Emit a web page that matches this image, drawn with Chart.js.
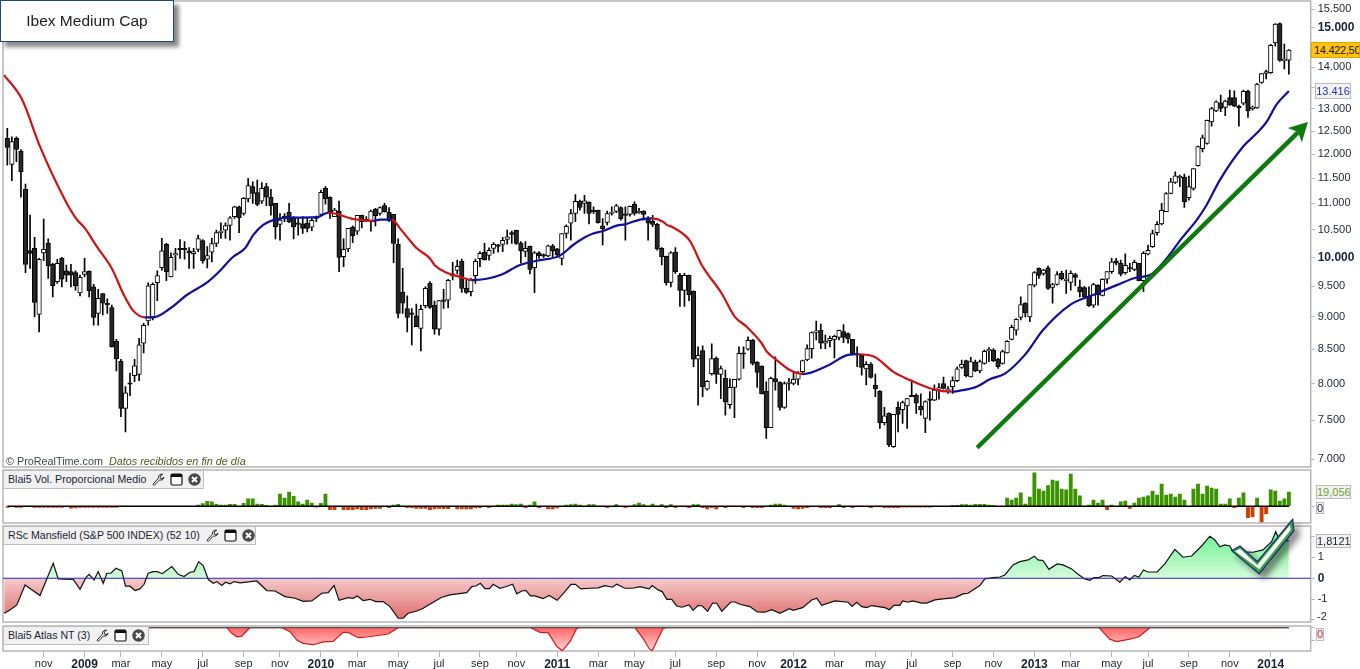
<!DOCTYPE html>
<html>
<head>
<meta charset="utf-8">
<title>Ibex Medium Cap</title>
<script src="https://cdn.jsdelivr.net/npm/chart.js@4/dist/chart.umd.min.js"></script>
<style>
  html, body { margin: 0; padding: 0; background: #fff; overflow: hidden; }
  body { width: 1360px; height: 669px; position: relative; font-family: "Liberation Sans", Arial, sans-serif; color: #1a2436; }
  canvas { position: absolute; left: 0; }
  .title { position: absolute; left: 0; top: 0; width: 172px; height: 40px; background: #fff; border: 1px solid #1f4a7e; box-shadow: 5px 5px 4px #8a8a8a; font-size: 15.5px; line-height: 40px; text-align: center; color: #222; box-sizing: content-box; }
  .credit { position: absolute; left: 6px; top: 454px; font-size: 10.8px; line-height: 14px; color: #3d4a44; white-space: pre; }
  .credit i { color: #4f5a22; }
  .legend { position: absolute; left: 3px; height: 17px; background: #f1f1f1; border: 1px solid #bdbdbd; font-size: 10.6px; line-height: 17px; padding-left: 4px; white-space: pre; box-sizing: content-box; display: flex; align-items: center; }
  .legend svg { width: 13px; height: 13px; margin-left: 5px; }
  .legend svg:first-of-type { margin-left: 6px; }
  .box { position: absolute; box-sizing: border-box; background: #f3f3f3; border: 1px solid #bbb; font-size: 11px; text-align: center; overflow: hidden; white-space: pre; }
  .lbl { position: absolute; font-size: 11px; line-height: 13px; }
  #check { position: absolute; left: 0; top: 0; pointer-events: none; }
</style>
</head>
<body>
<canvas id="mainChart" width="1360" height="469" style="top:0"></canvas>
<canvas id="volChart" width="1360" height="56" style="top:469px"></canvas>
<canvas id="rsChart" width="1360" height="99" style="top:525px"></canvas>
<canvas id="atlasChart" width="1360" height="45" style="top:624px"></canvas>

<svg width="0" height="0" style="position:absolute">
  <symbol id="icoWrench" viewBox="0 0 13 13"><path d="M1 11.2 L2.2 12.4 L7.6 6.8 C9.4 7.6 11.6 6.6 12 4.4 L10 5.8 L8 4.6 L8.6 2.6 L10.6 1.2 C8.2 0.6 6 2.6 6.4 5.2 Z" fill="#fff" stroke="#222" stroke-width="1"/></symbol>
  <symbol id="icoWin" viewBox="0 0 13 13"><rect x="1" y="1" width="11" height="11" rx="1.5" fill="#fff" stroke="#111" stroke-width="1.2"/><rect x="1" y="1" width="11" height="3" fill="#111"/></symbol>
  <symbol id="icoClose" viewBox="0 0 13 13"><circle cx="6.5" cy="6.5" r="6.2" fill="#4a4a4a"/><path d="M4 4 L9 9 M9 4 L4 9" stroke="#fff" stroke-width="2"/></symbol>
</svg>

<div class="title">Ibex Medium Cap</div>
<div class="credit">© ProRealTime.com  <i>Datos recibidos en fin de día</i></div>

<div class="legend" style="top:470px;width:195px">Blai5 Vol. Proporcional Medio<svg><use href="#icoWrench"/></svg><svg><use href="#icoWin"/></svg><svg><use href="#icoClose"/></svg></div>
<div class="legend" style="top:526px;width:247px">RSc Mansfield (S&amp;P 500 INDEX) (52 10)<svg><use href="#icoWrench"/></svg><svg><use href="#icoWin"/></svg><svg><use href="#icoClose"/></svg></div>
<div class="legend" style="top:626px;width:140px">Blai5 Atlas NT (3)<svg><use href="#icoWrench"/></svg><svg><use href="#icoWin"/></svg><svg><use href="#icoClose"/></svg></div>

<div class="box" style="left:1311px;top:42px;width:49px;height:16px;line-height:14px;background:#ffc20e;border-color:#e0a800;color:#222;text-align:left;padding-left:2px;letter-spacing:-0.3px">14.422,50</div>
<div class="box" style="left:1315px;top:83px;width:36px;height:16px;line-height:14px;color:#2a2ac8">13.416</div>
<div class="box" style="left:1316px;top:485px;width:35px;height:14px;line-height:12px;color:#6f9e2e">19,056</div>
<div class="box" style="left:1316px;top:502px;width:8px;height:12px;line-height:10px">0</div>
<div class="box" style="left:1316px;top:534px;width:35px;height:14px;line-height:12px">1,8121</div>
<div class="box" style="left:1316px;top:628px;width:8px;height:13px;line-height:11px;color:#e01c1c">0</div>
<div class="lbl" style="left:1317px;top:610px">-2</div>

<svg id="check" width="1360" height="669">
  <defs>
    <linearGradient id="checkFill" x1="0" y1="0" x2="1" y2="1">
      <stop offset="0" stop-color="#e8fbe4"/><stop offset="0.5" stop-color="#ffffff"/><stop offset="1" stop-color="#c9f2c4"/>
    </linearGradient>
    <filter id="checkShadow" x="-20%" y="-20%" width="160%" height="160%"><feDropShadow dx="5" dy="5" stdDeviation="3" flood-color="#222" flood-opacity="0.55"/></filter>
  </defs>
  <polygon points="1231.7,550.7 1240,546 1257.3,561.7 1292.7,519.3 1294,530.7 1259.3,574" fill="#3f9a46" stroke="#1a2a7a" stroke-width="1.2" filter="url(#checkShadow)"/>
  <polygon points="1235,551.3 1240,548.7 1257.3,565 1290,525 1290.7,530 1259.3,569.3" fill="url(#checkFill)"/>
</svg>

<script>
'use strict';

// ---- weekly candles, Sep 2008 to Feb 2014 ----
const opens = [
  12340,11785,12340,12060,11275,10120,10160,9040,10080,10250,
  9875,9580,9980,9765,9750,9735,9390,9700,9755,9490,
  9055,9380,9220,9150,8620,8320,7655,8000,8110,8130,
  8590,8935,9000,9560,9820,10230,9660,10040,10160,10150,
  10115,10065,10140,10300,9965,10090,10250,10445,10490,10580,
  10745,10935,10805,11085,11330,11210,11045,11330,11120,11000,
  10600,10745,10830,10720,10620,10610,10620,10545,10735,10790,
  11295,11120,10745,10850,10010,10150,10545,10475,10770,10690,
  10665,10885,10805,10960,10830,10790,10230,9400,9135,9055,
  9015,8820,9180,9550,9185,8805,9260,9272,9675,9770,
  9930,9465,9410,9680,9975,10090,10035,10160,10210,10230,
  10320,10445,10490,10250,10105,10195,9820,10080,10040,10025,
  10205,10150,9980,10430,10620,10805,11040,11000,11020,10860,
  10865,10570,10635,10805,10845,10920,10790,10790,10980,10820,
  10845,10720,10655,10600,10160,10015,9565,10090,9685,9430,
  9685,9415,8350,8480,7920,8140,8365,8130,8075,7705,
  7945,8060,8440,8500,8635,8305,8245,7890,7400,8070,
  8015,7670,8000,8000,8060,8170,8339,8510,8755,8790,
  8590,8630,8650,8680,8770,8740,8650,8415,8410,8210,
  8280,7975,7890,7465,7589,7155,7670,7640,7690,7835,
  7835,7685,7520,7780,7769,7920,8000,7890,7955,8040,
  8230,8330,8095,8305,8180,8290,8475,8487,8350,8290,
  8445,8650,8793,8990,9220,9000,9520,9805,9720,9815,
  9480,9530,9720,9595,9565,9700,9490,9480,9325,9190,
  9515,9350,9620,9750,9940,9895,9730,9810,9790,9895,
  9595,10055,10190,10445,10610,10840,11195,11415,11510,11520,
  11110,11295,11760,12120,12230,12705,12955,13140,13035,13265,
  13265,13065,13130,13410,13005,13025,13625,13840,13860,14610,
  15120,14155,14172
];
const highs = [
  12560,12375,12375,12100,11380,10775,10360,9980,10700,10330,
  9895,9965,10000,9865,9875,9765,9690,9980,9765,9535,
  9450,9380,9290,9190,8650,8350,7955,8150,8350,8665,
  8900,9560,9560,9765,10340,10250,10080,10160,10320,10280,
  10175,10160,10400,10320,10190,10340,10493,10630,10630,10745,
  10950,10950,11120,11500,11430,11463,11410,11395,11275,11000,
  10805,10805,11000,10745,10710,10745,10710,10710,10755,11262,
  11330,11130,10905,11045,10330,10525,10570,10770,10775,10745,
  10870,10905,10935,11000,10920,10790,10330,9805,9340,9135,
  9205,9190,9490,9580,9255,9265,9450,9620,9910,9951,
  9970,9606,9635,9970,10100,10250,10170,10265,10230,10360,
  10493,10475,10493,10280,10280,10200,10100,10100,10060,10220,
  10230,10160,10430,10590,10885,11175,11065,11160,11030,10935,
  10871,10710,10850,10935,10980,10935,10935,10950,11030,10905,
  10860,10745,10770,10620,10175,10020,10100,10175,9720,9720,
  9690,9425,8535,8550,8040,8580,8385,8250,8192,8065,
  8060,8535,8535,8690,8650,8315,8255,8025,8090,8385,
  8025,8025,8075,8170,8170,8339,8565,8765,8935,8885,
  8715,8700,8715,8793,8880,8750,8650,8535,8415,8315,
  8300,8135,7900,7670,7597,7575,7745,7755,7790,8049,
  7855,7855,7760,7885,7980,8000,8090,7955,8095,8240,
  8339,8339,8380,8339,8339,8487,8525,8510,8365,8487,
  8630,8870,8975,9325,9230,9530,9750,9815,9790,9845,
  9550,9750,9760,9777,9765,9720,9606,9500,9490,9550,
  9530,9630,9750,9980,9980,9951,10060,9895,9951,9895,
  10100,10220,10493,10650,11000,11210,11500,11630,11565,11585,
  11545,11700,12175,12410,12746,13035,13190,13320,13205,13440,
  13425,13090,13440,13440,13065,13600,13840,13924,14570,15120,
  15140,14580,14440
];
const lows = [
  11770,11450,11840,11120,9730,9805,9000,8765,9940,9635,
  9325,9550,9490,9580,9490,9437,9340,9660,9325,8870,
  8870,9030,9055,8530,8180,7545,7345,7830,8025,8040,
  8445,8870,8950,9260,9777,9595,9660,9777,9980,9965,
  9805,9805,10100,9895,9815,9920,10190,10340,10340,10309,
  10710,10445,10775,11030,11000,10955,11000,10955,10775,10330,
  10309,10650,10630,10330,10400,10430,10460,10480,10650,10775,
  10985,10710,10745,9750,9835,10100,10260,10415,10535,10650,
  10475,10570,10775,10830,10650,9905,8985,9055,8765,8565,
  8845,8475,9145,9135,8730,8715,9135,9145,9606,9710,
  9400,9380,9340,9550,9835,9951,9951,10070,10090,10100,
  10235,10250,10230,9895,10010,9710,9395,9980,10000,10010,
  10010,10000,9865,10350,10309,10650,10871,10805,10610,10805,
  10620,10220,10590,10775,10820,10680,10309,10755,10775,10805,
  10680,10309,10555,10129,9865,9520,9490,9720,9170,9170,
  9260,8240,7700,7815,7908,8120,8000,7790,7565,7655,
  7530,8049,8215,8487,8265,7945,7855,7260,7400,7908,
  7633,7655,7908,7980,7980,8140,8330,8365,8639,8510,
  8510,8535,8370,8639,8600,8590,8415,8240,8120,7980,
  8075,7815,7390,7435,7155,7145,7345,7455,7390,7815,
  7589,7565,7335,7499,7760,7780,7920,7860,7860,8025,
  8215,8095,8090,8170,8150,8280,8315,8315,8215,8280,
  8440,8639,8715,8950,9000,8925,9490,9635,9690,9450,
  9220,9520,9606,9380,9437,9510,9325,9315,9170,9150,
  9190,9340,9550,9720,9865,9675,9705,9750,9765,9590,
  9410,10040,10175,10400,10590,10840,11185,11395,11330,10920,
  11065,11262,11750,12050,12215,12610,12935,12935,12845,13080,
  13050,12610,13090,12805,12973,13010,13600,13710,13840,14525,
  14140,13950,13825
];
const closes = [
  12145,12270,12100,11630,9875,10070,9235,9965,10140,9850,
  9510,9895,9620,9690,9690,9510,9650,9750,9425,8990,
  9300,9220,9195,8535,8360,7655,7870,7990,8255,8565,
  8865,9510,9535,9680,10115,9750,10000,10055,10135,10135,
  10080,10100,10335,9940,10030,10245,10445,10460,10575,10725,
  10935,10725,11100,11350,11195,10980,11295,11120,10955,10555,
  10680,10725,10650,10555,10600,10525,10525,10675,10710,11215,
  11090,10805,10871,10000,10140,10525,10390,10770,10650,10665,
  10850,10765,10920,10840,10680,10250,9055,9220,8990,9040,
  8845,9120,9465,9150,8805,9265,9250,9600,9710,9840,
  9465,9400,9606,9930,10070,9955,10125,10230,10195,10305,
  10370,10415,10250,10115,10160,9790,10080,10030,10020,10205,
  10115,10040,10430,10565,10805,11040,10920,11050,10805,10840,
  10630,10520,10805,10830,10955,10700,10770,10945,10805,10845,
  10790,10620,10600,10150,10010,9560,10080,9750,9430,9685,
  9355,8350,8410,7955,8030,8360,8130,8215,7745,7945,
  8060,8440,8425,8635,8290,8160,7855,7400,8075,8025,
  7670,8000,8015,8060,8150,8330,8510,8755,8780,8590,
  8625,8665,8695,8790,8680,8655,8425,8440,8230,8275,
  8085,7925,7465,7555,7180,7575,7575,7735,7790,7815,
  7725,7640,7750,7765,7908,7930,7930,7925,8040,8210,
  8275,8110,8315,8180,8315,8470,8500,8330,8240,8465,
  8620,8835,8960,9200,9065,9530,9735,9685,9777,9465,
  9530,9700,9630,9620,9720,9650,9410,9325,9180,9530,
  9355,9620,9750,9920,9895,9705,9860,9795,9910,9595,
  10070,10125,10430,10600,10865,11195,11430,11550,11530,11030,
  11330,11700,12160,12350,12740,13010,13165,13010,13180,13090,
  13065,13025,13410,12955,13035,13585,13840,13890,14550,15105,
  14165,14200,14425
];

// ---- moving average, read at the bends of the line ----
const maWeeks = [
  -0.7,3.2,7.2,12.7,15.1,17.1,19.7,23,25.5,27.7,30.3,32.1,35.8,39.5,44.2,46.8,49.7,52.3,54.1,56.3,58.5,62.2,68.1,70.6,
  72.1,76.1,80.5,82,84.6,86.4,88.2,90.1,93,94.1,96.7,99.6,102.2,105.5,108.8,112.8,116.5,121.6,124.5,127.1,128.9,131.1,134.1,135.9,139.2,141.8,
  144.3,145.1,146.2,150.2,152.8,157.2,160.1,162.7,166,167.1,169.3,172.2,175.1,180.3,185,187.2,190.9,194.9,198.6,203.7,207.8,
  209.6,213.3,216.2,219.5,223.9,227.9,233.8,238.9,244.1,248.5,251.4,255.1,258.4,261.7,263.9,266.8,271.9,274.9,277.1,279.3,282
];
const maValues = [
  13802,13228,12160,11065,10712,10525,10190,9805,9380,9100,8993,8993,9135,9355,9580,9765,10010,10160,10400,10590,10680,10725,10735,10820,
  10805,10700,10665,10690,10690,10525,10340,10160,9980,9855,9730,9660,9606,9628,9700,9865,9940,10030,10220,10360,10430,10475,10575,10600,10690,10712,
  10650,10590,10555,10295,9865,9380,9000,8845,8590,8465,8339,8192,8135,8250,8415,8425,8385,8170,8049,7920,7885,
  7900,7955,8060,8140,8415,8793,9190,9355,9520,9650,9690,9980,10340,10680,10970,11463,12160,12450,12705,13105,13416
];

// ---- green trend arrow ----
const arrowWeeks = [213.4, 284];
const arrowPrices = [7141, 12472];
const arrowTip = [286.2, 12700];

// ---- Blai5 Vol. Proporcional Medio, one bar a week ----
const volumeBars = [
  -1.5,0,-1.5,-1.5,0,0,-1.5,-1.5,-1.5,-1.5,
  -1.5,-1.5,-1.5,0,-2.5,-2,-1.5,-1.5,-1.5,-1.5,
  -1.5,-1.5,-1.5,-1.5,-1.5,0,0,0,0,0,
  0,0,0,0,0,0,0,0,0,0,
  0,0,1.5,3.5,6.5,5.8,2.7,1.8,1.8,2.7,
  2.7,0,4,9.8,9.8,3.1,2.7,1.3,0,1.8,
  16.4,11,19,13.3,5.8,3.1,8.4,4.4,-1.3,4,
  16.4,-4.4,-4.4,0,-4.4,-4.4,-4.4,-3.5,-4.4,-4.4,
  -3.5,-2.7,-2.7,0,-1.8,1.8,2.7,0,-1.8,-1.8,
  -2.7,-2.7,-2.7,-4.4,-3.5,-2.7,-3.1,-3.1,0,-3.5,
  -3.5,-3.5,-3.5,-2.2,-1.8,0,-1.8,0,1.8,1.8,
  1.8,3.1,2.2,3.1,-1.8,1.8,5.8,-1.8,0,-3.5,
  -3.5,-2.2,0,1.8,2.2,3.1,1.8,0,2.2,2.2,
  0,0,-1.8,0,2.2,0,-1.8,0,2.2,4.4,
  2.2,0,3.1,0,2.2,-1.8,2.2,-1.8,0,0,
  -1.8,2.2,2.2,-1.8,-3.5,-1.8,-3.5,0,-1.8,0,
  0,0,-1.8,0,-1.8,-1.8,-1.8,0,1.8,3.1,
  3.1,1.8,0,-2.7,-3.5,-2.7,-1.8,0,0,-1.8,
  -1.8,-1.8,0,2.2,-1.8,0,-1.8,0,0,0,
  -1.8,0,0,-1.8,-1.8,-1.8,-1.8,-1.3,-1.3,-1.3,
  -1.3,-1.3,-1.3,-1.3,0,0,0,0,1.3,1.3,
  2.2,2.2,1.8,2.7,2.7,2.7,1.8,1.3,0,0,
  11,8.4,11,17.8,3.1,12.4,44.4,23,20.4,27.5,
  35,33.7,23,21.8,43,23,13.8,0,1.8,8.4,
  4.4,8.4,-4.4,1.8,0,5.8,7.1,-2.7,4.4,11,
  12.4,13.8,20.4,15,29.7,15,16.4,12.4,16.4,8.4,
  0,23,29.7,16.4,27,24.4,23,3.1,3.1,9.8,
  -1.8,11,17.8,-15,-13.8,11,-20.9,-9.8,21.8,20.4,
  7.1,9.8,19.056
];

// ---- RSc Mansfield ----
const rsWeeks = [
  -0.7,0.6,2.1,3.9,7.2,10.1,11.2,14.5,16,17.3,18,19.1,20,21.1,21.9,22.8,23.9,25.2,26,27,28.1,29.2,30.1,31,32.1,33,34.1,36.2,37.6,38.9,40.2,41.1,42.1,43.1,44.2,45.3,46.1,47.2,48,49,49.9,51.2,54.9,57.1,58.9,61.1,63.3,65.1,67,69.2,70.6,71.9,73,75,76.1,77,78.3,79.8,81.1,82.7,84.2,86,87.1,88.2,90.1,91.5,93.7,95.6,97.4,
  101.1,102.2,103.1,104.1,105.1,106.1,106.9,108.4,109.5,111.2,112.1,113.2,114.1,115.1,116.1,117.9,119.2,121,122.7,124,125,126.2,128.2,130,131.5,133.1,134.1,135.9,137.6,139.2,141.2,141.9,143.2,144.1,145.1,146.2,147.3,148.4,150,150.9,152,152.9,154.1,155.2,156.1,157.2,159.2,160.1,161.2,163.4,165,166.7,168.2,170,172.1,172.9,175,177,178.1,179.2,182.1,185,185.9,186.9,188,189.1,190.2,193.1,194.1,195.1,196.4,
  197,198.2,199.2,201.2,202.3,204.1,205.9,208.5,210.3,211.4,214,215.1,216.9,218.4,219.5,221.3,222.8,224.6,226,226.8,227.9,229.2,231,232.3,234.2,235.6,237.1,238.2,239.1,240.2,241.1,243,244.8,246,247,248,249,250,251,253,254.7,256.9,258.7,260.6,262.8,264.6,265.7,266.8,267.9,269,269.7,274.1,276.3,278.2,279.1,280,282
];
const rsValues = [
  -1.68,-1.52,-1.28,-0.32,-0.83,0.72,-0.03,-0.05,-0.53,0.03,0.19,-0.08,0.32,-0.24,0.24,0.24,0.48,0.35,-0.38,-0.38,-0.59,-0.51,-0.29,0.24,0.32,0.32,0.22,0.56,0.19,0.08,0.29,0.32,0.8,0.61,-0.05,-0.24,-0.16,-0.35,-0.19,-0.27,-0.16,-0.22,-0.13,-0.59,-0.61,-0.88,-0.96,-1.11,-1.09,-0.72,-0.69,-0.35,-1.06,-0.93,-0.96,-0.85,-1.07,-1.01,-1.12,-1.12,-1.36,-1.92,-1.92,-1.68,-1.57,-1.44,-1.15,-0.91,-0.8,
  -0.69,-0.4,-0.37,-0.24,-0.5,-0.5,-0.29,-0.48,-0.42,-0.29,-0.75,-0.61,-0.58,-0.85,-0.85,-0.98,-0.83,-1.06,-0.64,-0.29,-0.29,-0.51,-0.48,-0.46,-0.35,-0.43,-0.29,-0.48,-0.48,-0.4,-0.51,-0.35,-0.56,-0.64,-1.01,-1.01,-1.33,-1.39,-1.28,-1.54,-1.3,-1.33,-1.59,-1.19,-1.2,-1.59,-1.14,-1.14,-1.25,-1.36,-1.62,-1.63,-1.51,-1.68,-1.46,-1.54,-1.41,-1.04,-0.96,-1.3,-1.09,-1.15,-1.35,-1.15,-1.36,-1.41,-1.31,-1.41,-1.51,-1.3,-1.3,
  -1.09,-1.15,-1.09,-1.19,-1.19,-1.04,-0.99,-0.93,-0.75,-0.72,-0.35,-0.03,0.03,0.06,0.16,0.64,0.8,0.88,1.06,0.88,0.85,0.43,0.69,0.64,0.45,0.19,-0.03,-0.1,0.03,0.03,0.13,0.11,-0.19,0.08,-0.08,0.14,0.06,0.4,0.3,0.3,0.69,1.39,1.01,1.07,1.55,2.02,1.84,1.51,1.6,1.55,1.28,1.25,1.36,1.76,2.24,1.78,1.8121
];

// ---- Blai5 Atlas NT ----
const atlasWeeks = [
  0,48.3,49.4,50.5,51.6,52.7,53.4,60.4,62.2,63.7,65.1,67.3,69.5,71.7,73.9,75,77.2,79.1,83.8,86,
  115.2,117.2,119,120.9,122.1,123.8,125.3,126,138.1,139.9,141.2,141.9,143.2,144.3,145.1,
  240.2,242.6,244.1,247,249,251.4,282
];
const atlasValues = [
  0,0,-0.24,-0.39,-0.36,-0.13,0,0,-0.17,-0.53,-0.67,-0.73,-0.61,-0.59,-0.2,-0.2,-0.43,-0.4,-0.27,0,
  0,-0.2,-0.21,-0.8,-0.99,-0.6,-0.03,0,0,-0.46,-0.89,-0.99,-0.46,-0.03,0,
  0,-0.49,-0.6,-0.49,-0.39,0,0
];

// ---- axis ticks ----
const priceTicks = [7000,7500,8000,8500,9000,9500,10000,10500,11000,11500,12000,12500,13000,13500,14000,14500,15000,15500];
const hiddenPriceTicks = [13500, 14500];
const boldPriceTicks = [10000, 15000];
const monthWeeks = [8,17,25,34,43,52,60,69,77,86,95,104,112,121,130,138,147,156,165,173,182,191,199,208,217,226,234,243,251,260,269,278];
const monthLabels = ['nov','2009','mar','may','jul','sep','nov','2010','mar','may','jul','sep','nov','2011','mar','may','jul','sep','nov','2012','mar','may','jul','sep','nov','2013','mar','may','jul','sep','nov','2014'];
const rsTicks = [2, 1, 0, -1, -2];

// ---- shared look ----
const X_MIN = -0.95, X_MAX = 286.8;
const AXIS_W = 49.3;
const GREY = '#b6b6b6';
const INK = '#1a2436';
const BLUE = '#10109c', RED = '#d01212';

const points = (xs, ys) => xs.map((x, i) => ({ x, y: ys[i] }));

const panelFrame = {
  id: 'panelFrame',
  beforeDraw(chart) {
    const { ctx, chartArea: a } = chart;
    ctx.save();
    ctx.strokeStyle = GREY;
    ctx.lineWidth = 1.5;
    ctx.strokeRect(a.left, a.top, a.right - a.left, a.bottom - a.top);
    ctx.restore();
  }
};

function fixSide(scale) {
  scale.width = AXIS_W;
  scale.paddingTop = 0;
  scale.paddingBottom = 0;
}

function xAxis(showLabels) {
  return {
    type: 'linear', min: X_MIN, max: X_MAX, bounds: 'data', offset: false,
    display: !!showLabels,
    border: { display: false },
    grid: { display: true, drawOnChartArea: false, color: GREY, tickLength: 6 },
    afterBuildTicks: (s) => { s.ticks = monthWeeks.map(v => ({ value: v })); },
    afterFit: (s) => { s.height = showLabels ? 18 : 0; s.paddingLeft = 0; s.paddingRight = 0; },
    ticks: {
      autoSkip: false, maxRotation: 0, padding: 0, color: INK,
      callback: (v, i) => monthLabels[i],
      font: (c) => {
        const bold = /^20/.test(monthLabels[c.index] || '');
        return { family: '"Liberation Sans"', size: bold ? 12 : 11, weight: bold ? 'bold' : 'normal' };
      }
    }
  };
}

function baseOptions(padding, x, y) {
  return {
    responsive: false,
    animation: false,
    events: [],
    layout: { padding },
    plugins: { legend: { display: false }, tooltip: { enabled: false } },
    scales: { x, y }
  };
}

// ---- price panel ----
const candleWeeks = opens.map((_, i) => i);
const arrowHead = {
  id: 'arrowHead',
  afterDatasetsDraw(chart) {
    const { ctx, scales } = chart;
    const tx = scales.x.getPixelForValue(arrowTip[0]), ty = scales.y.getPixelForValue(arrowTip[1]);
    const bx = scales.x.getPixelForValue(arrowWeeks[0]), by = scales.y.getPixelForValue(arrowPrices[0]);
    const a = Math.atan2(ty - by, tx - bx);
    const at = (back, side) => [
      tx - back * Math.cos(a) - side * Math.sin(a),
      ty - back * Math.sin(a) + side * Math.cos(a)
    ];
    ctx.save();
    ctx.fillStyle = '#0d7a0d';
    ctx.beginPath();
    ctx.moveTo(tx, ty);
    ctx.lineTo(...at(18.5, -10));
    ctx.lineTo(...at(14, 0));
    ctx.lineTo(...at(18.5, 10));
    ctx.closePath();
    ctx.fill();
    ctx.restore();
  }
};

new Chart(document.getElementById('mainChart'), {
  type: 'bar',
  data: {
    datasets: [
      {
        type: 'line', order: 0, parsing: true,
        data: points(arrowWeeks, arrowPrices),
        borderColor: '#0d7a0d', borderWidth: 4.5, pointRadius: 0
      },
      {
        type: 'line', order: 1,
        data: points(maWeeks, maValues),
        borderWidth: 2.2, pointRadius: 0, cubicInterpolationMode: 'monotone',
        borderColor: BLUE,
        segment: { borderColor: (c) => (c.p1.parsed.y >= c.p0.parsed.y ? BLUE : RED) }
      },
      {
        order: 2, grouped: false, barThickness: 4.5, minBarLength: 1.5,
        data: candleWeeks.map(i => ({ x: i, y: [opens[i], closes[i]] })),
        backgroundColor: candleWeeks.map(i => (closes[i] >= opens[i] ? '#ffffff' : '#262626')),
        borderColor: '#000', borderWidth: 1, borderSkipped: false
      },
      {
        order: 3, grouped: false, barThickness: 1,
        data: candleWeeks.map(i => ({ x: i, y: [lows[i], highs[i]] })),
        backgroundColor: '#000'
      }
    ]
  },
  options: baseOptions({ left: 3, top: 1, bottom: 2, right: 0 }, xAxis(false), {
    type: 'logarithmic', position: 'right', min: 6902, max: 15733, bounds: 'data',
    border: { display: false },
    grid: { display: true, drawOnChartArea: false, color: GREY, tickLength: 4 },
    afterBuildTicks: (s) => { s.ticks = priceTicks.map(v => ({ value: v })); },
    afterFit: fixSide,
    ticks: {
      autoSkip: false, padding: 3, color: INK,
      callback: (v) => (hiddenPriceTicks.includes(v) ? '' : (v / 1000).toFixed(3)),
      font: (c) => {
        const bold = boldPriceTicks.includes(c.tick && c.tick.value);
        return { family: '"Liberation Sans"', size: bold ? 12 : 11, weight: bold ? 'bold' : 'normal' };
      }
    }
  }),
  plugins: [panelFrame, arrowHead]
});

// ---- volume panel ----
new Chart(document.getElementById('volChart'), {
  type: 'bar',
  data: {
    datasets: [
      {
        type: 'line', order: 0,
        data: points([0, 282], [0, 0]),
        borderColor: '#000', borderWidth: 1.4, pointRadius: 0
      },
      {
        order: 1, grouped: false, barThickness: 3.2,
        data: volumeBars.map((v, i) => ({ x: i, y: v })),
        backgroundColor: volumeBars.map(v => (v >= 0 ? '#3a9400' : '#d23c00'))
      }
    ]
  },
  options: baseOptions({ left: 3, top: 1, bottom: 2, right: 0 }, xAxis(false), {
    type: 'linear', position: 'right', min: -22.2, max: 48.3, bounds: 'data',
    border: { display: false },
    grid: { display: true, drawOnChartArea: false, color: GREY, tickLength: 4 },
    afterBuildTicks: (s) => { s.ticks = [{ value: 0 }]; },
    afterFit: fixSide,
    ticks: { callback: () => '', padding: 3 }
  }),
  plugins: [panelFrame]
});

// ---- Mansfield panel ----
const rsChart = new Chart(document.getElementById('rsChart'), {
  type: 'line',
  data: {
    datasets: [
      {
        order: 0,
        data: points([X_MIN, X_MAX], [0, 0]),
        borderColor: '#2424b8', borderWidth: 1.2, pointRadius: 0
      },
      {
        order: 1,
        data: points(rsWeeks, rsValues),
        borderColor: '#111', borderWidth: 1.2, pointRadius: 0, tension: 0
      }
    ]
  },
  options: baseOptions({ left: 3, top: 1, bottom: 2, right: 0 }, xAxis(false), {
    type: 'linear', position: 'right', min: -2.1, max: 2.51, bounds: 'data',
    border: { display: false },
    grid: { display: true, drawOnChartArea: false, color: GREY, tickLength: 4 },
    afterBuildTicks: (s) => { s.ticks = rsTicks.map(v => ({ value: v })); },
    afterFit: fixSide,
    ticks: {
      autoSkip: false, padding: 3, color: INK,
      callback: (v) => (v === 1 || v === 0 || v === -1 ? String(v) : ''),
      font: (c) => ({ family: '"Liberation Sans"', size: c.tick && c.tick.value === 0 ? 12 : 11, weight: c.tick && c.tick.value === 0 ? 'bold' : 'normal' })
    }
  }),
  plugins: [panelFrame]
});
{
  const ctx = rsChart.ctx, y = rsChart.scales.y;
  const above = ctx.createLinearGradient(0, y.getPixelForValue(2), 0, y.getPixelForValue(0));
  above.addColorStop(0, '#74f596');
  above.addColorStop(1, '#d6fcdc');
  const below = ctx.createLinearGradient(0, y.getPixelForValue(0), 0, y.getPixelForValue(-2));
  below.addColorStop(0, '#f5caca');
  below.addColorStop(1, '#e06c6c');
  rsChart.data.datasets[1].fill = { target: { value: 0 }, above, below };
  rsChart.update();
}

// ---- Atlas panel ----
const atlasChart = new Chart(document.getElementById('atlasChart'), {
  type: 'line',
  data: {
    datasets: [
      {
        order: 0,
        data: points([0, 282], [0, 0]),
        borderColor: '#555', borderWidth: 1.2, pointRadius: 0
      },
      {
        order: 1,
        data: points(atlasWeeks, atlasValues),
        borderColor: '#dd1414', borderWidth: 1.2, pointRadius: 0, tension: 0
      }
    ]
  },
  options: baseOptions({ left: 3, top: 2, bottom: 0, right: 0 }, xAxis(true), {
    type: 'linear', position: 'right', min: -1, max: 0.073, bounds: 'data',
    border: { display: false },
    grid: { display: true, drawOnChartArea: false, color: GREY, tickLength: 4 },
    afterBuildTicks: (s) => { s.ticks = [{ value: 0 }, { value: -0.55 }]; },
    afterFit: fixSide,
    ticks: { callback: () => '', padding: 3 }
  }),
  plugins: [panelFrame]
});
{
  const ctx = atlasChart.ctx, y = atlasChart.scales.y;
  const below = ctx.createLinearGradient(0, y.getPixelForValue(0), 0, y.getPixelForValue(-1));
  below.addColorStop(0, '#ff6464');
  below.addColorStop(1, '#ffdcdc');
  atlasChart.data.datasets[1].fill = { target: { value: 0 }, below, above: 'transparent' };
  atlasChart.update();
}
</script>
</body>
</html>
